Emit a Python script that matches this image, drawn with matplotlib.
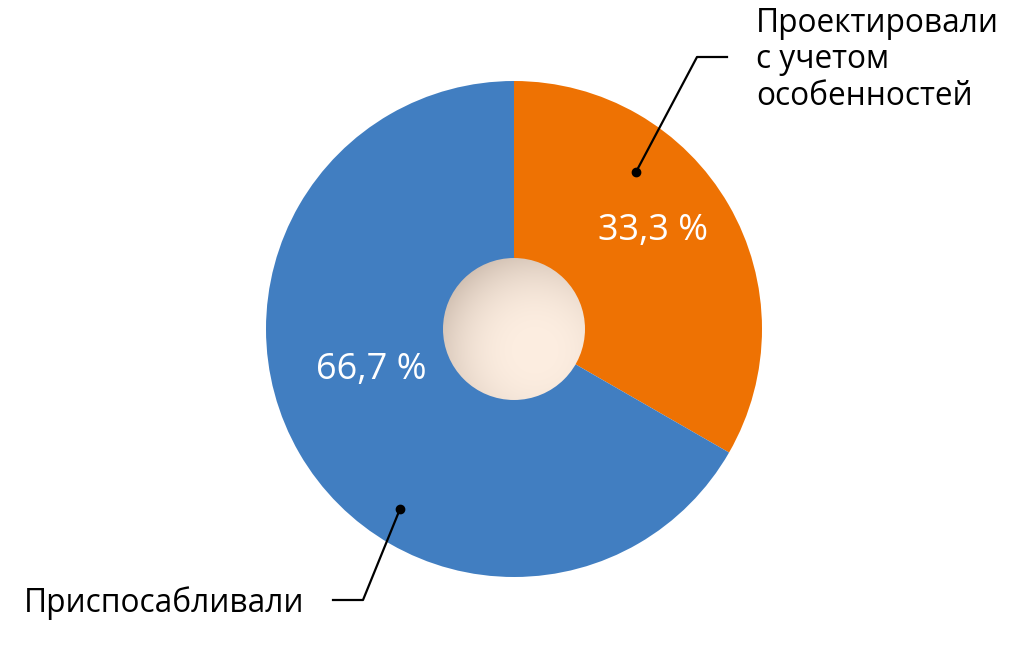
import numpy as np
import matplotlib
matplotlib.use("Agg")
import matplotlib.pyplot as plt
from matplotlib.patches import Circle

categories = ["Проектировали\nс учетом\nособенностей", "Приспосабливали"]
values = [33.3, 66.7]
pct_labels = ["33,3 %", "66,7 %"]
colors = ["#EE7203", "#417EC1"]

W, H = 1028, 652
def Y(y):
    return H - y

fig = plt.figure(figsize=(W / 100, H / 100), dpi=100)
ax = fig.add_axes([0, 0, 1, 1])
ax.set_xlim(0, W)
ax.set_ylim(0, H)
ax.set_aspect("equal")
ax.axis("off")

cx, cy, R = 514, Y(329), 248
ax.pie(values, colors=colors, startangle=90, counterclock=False,
       center=(cx, cy), radius=R, wedgeprops=dict(linewidth=0))
ax.set_xlim(0, W)
ax.set_ylim(0, H)

# inner shaded disc
r = 71
n = 300
xs = np.linspace(-1, 1, n)
XX, YY = np.meshgrid(xs, xs[::-1])
ox, oy = 0.3, -0.3
d = np.sqrt((XX - ox) ** 2 + (YY - oy) ** 2) / 1.7
t = np.clip(d, 0, 1) ** 2.6
c0 = np.array(matplotlib.colors.to_rgb("#FDEEE1"))
c1 = np.array(matplotlib.colors.to_rgb("#B8A698"))
img = c0[None, None, :] * (1 - t[..., None]) + c1[None, None, :] * t[..., None]
im = ax.imshow(img, extent=[cx - r, cx + r, cy - r, cy + r], zorder=3, interpolation="bilinear")
clip = Circle((cx, cy), r, transform=ax.transData)
im.set_clip_path(clip)
ax.set_xlim(0, W)
ax.set_ylim(0, H)

font = ["Open Sans", "DejaVu Sans"]

# percent labels
ax.text(653, Y(231), pct_labels[0], color="white", fontsize=26, family=font,
        ha="center", va="center", zorder=4)
ax.text(371, Y(370), pct_labels[1], color="white", fontsize=26, family=font,
        ha="center", va="center", zorder=4)

# leader lines
ax.plot([636, 697, 727], [Y(172), Y(57), Y(57)], color="black", lw=1.6, zorder=4)
ax.plot([636], [Y(172)], "o", color="black", ms=6, zorder=5)
ax.plot([400, 363, 333], [Y(509), Y(600), Y(600)], color="black", lw=1.6, zorder=4)
ax.plot([400], [Y(509)], "o", color="black", ms=6, zorder=5)

ax.text(756, Y(60), categories[0], color="black", fontsize=22.8, family=font,
        ha="left", va="center", linespacing=1.13)
ax.text(24, Y(603), categories[1], color="black", fontsize=22.8, family=font,
        ha="left", va="center")

fig.savefig("out.png", dpi=100, facecolor="white")
